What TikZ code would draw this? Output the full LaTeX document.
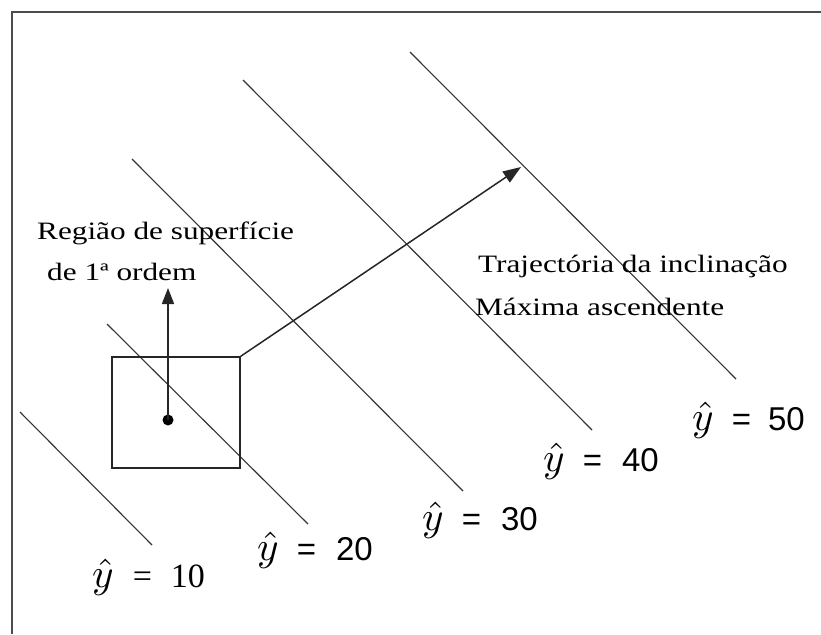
\documentclass[tikz,border=0pt]{standalone}
\usepackage{fontspec}
\setmainfont{Liberation Serif}
\newfontfamily\labsans{Liberation Sans}
\usepackage{graphicx}
\usetikzlibrary{arrows.meta}
\newcommand\yhatsym{{\normalsize\scalebox{4.1}{$\hat{y}$}}}
\newcommand\wide[1]{\scalebox{1.25}[1]{#1}}
\begin{document}
\begin{tikzpicture}[x=1pt,y=-1pt,
  level/.style={line width=1.1pt, draw=black!80},
  txt/.style={inner sep=0pt, anchor=base west, font=\fontsize{25}{30}\selectfont},
  lab/.style={inner sep=0pt, anchor=base west, font=\labsans\fontsize{33}{33}\selectfont},
  labser/.style={inner sep=0pt, anchor=base west, font=\rmfamily\fontsize{34}{34}\selectfont},
  arr/.style={line width=1.7pt, draw=black!85, -{Triangle[length=16pt,width=12pt]}},
  regionbox/.style={draw=black!85, line width=1.4pt, minimum width=128pt, minimum height=111pt, inner sep=0pt},
  centredot/.style={circle, fill=black, minimum size=11pt, inner sep=0pt}
]
\useasboundingbox (0,0) rectangle (821,634);
\fill[white] (0,0) rectangle (821,634);
% frame
\draw[line width=2.2pt, draw=black!70] (12,634) -- (12,12) -- (821,12);
% contour lines
\draw[level] (20,412) -- (152,545);
\draw[level] (107,324) -- (308,524);
\draw[level] (132,159) -- (463,491);
\draw[level] (243,80) -- (592,430);
\draw[level] (410,52) -- (736,379);
% region box and centre
\node[regionbox] (box) at (176,412.5) {};
\node[centredot] (dot) at (168,420) {};
\coordinate (uptip) at (168,288);
\coordinate (pathtip) at (521,167);
\draw[arr] (dot.center) -- (uptip);
\draw[arr, line width=1.5pt, -{Triangle[length=18pt,width=13pt]}] (box.north east) -- (pathtip);
% texts
\node[txt] (t1) at (37,239) {\wide{Região de superfície}};
\node[txt] (t2) at (47,280) {\wide{de 1ª ordem}};
\node[txt] (t3) at (478,272) {\wide{Trajectória da inclinação}};
\node[txt] (t4) at (475,315) {\wide{Máxima ascendente}};
% labels
\node[labser] (l10) at (92,587) {\yhatsym\hspace{19pt}=\hspace{19pt}10};
\node[lab] (l20) at (257,560) {\yhatsym\hspace{18pt}=\hspace{20pt}20};
\node[lab] (l30) at (422,530) {\yhatsym\hspace{18pt}=\hspace{20pt}30};
\node[lab] (l40) at (543,471) {\yhatsym\hspace{18pt}=\hspace{20pt}40};
\node[lab] (l50) at (692,430) {\yhatsym\hspace{18pt}=\hspace{17pt}50};
\end{tikzpicture}
\end{document}
